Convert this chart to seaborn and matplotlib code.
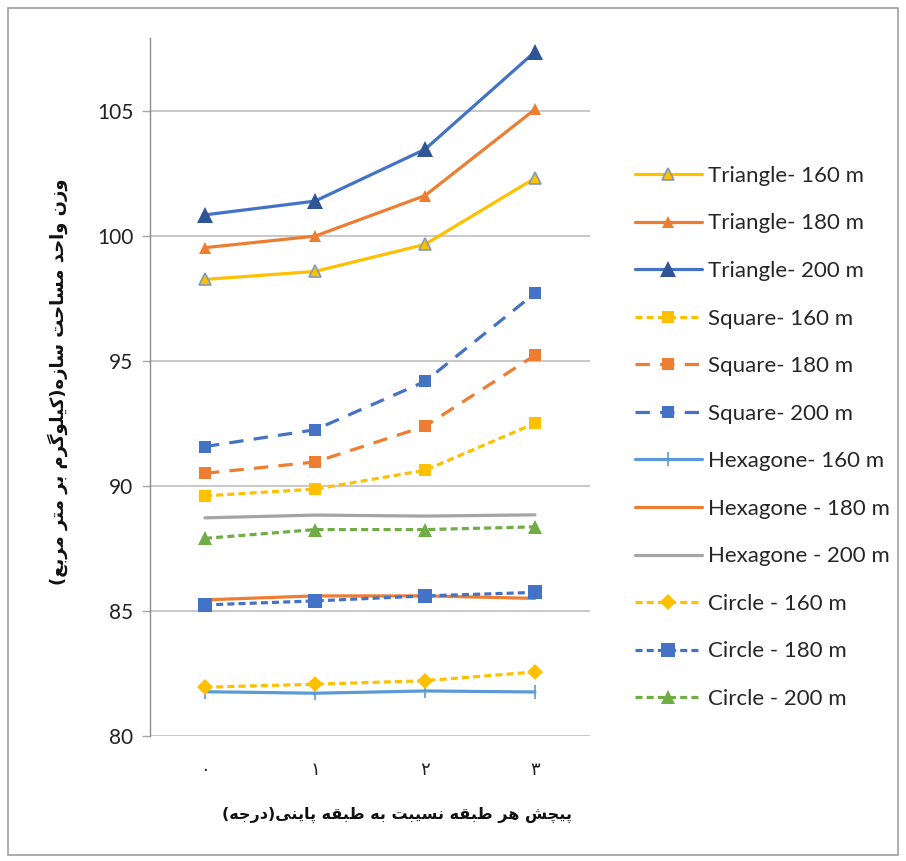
import matplotlib
matplotlib.use("Agg")
import matplotlib.pyplot as plt
import seaborn as sns
import pandas as pd
from matplotlib.patches import Rectangle

# ---------------- data ----------------
x_vals = [0, 1, 2, 3]
x_ticklabels = ["۰", "۱", "۲", "۳"]

tri_160 = [98.25, 98.57, 99.65, 102.3]
tri_180 = [99.52, 99.98, 101.6, 105.05]
tri_200 = [100.83, 101.38, 103.45, 107.35]
sq_160 = [89.6, 89.87, 90.62, 92.5]
sq_180 = [90.5, 90.95, 92.38, 95.22]
sq_200 = [91.57, 92.24, 94.17, 97.7]
hex_160 = [81.77, 81.71, 81.8, 81.76]
hex_180 = [85.44, 85.6, 85.6, 85.5]
hex_200 = [88.72, 88.83, 88.79, 88.84]
cir_160 = [81.95, 82.07, 82.21, 82.56]
cir_180 = [85.24, 85.4, 85.6, 85.74]
cir_200 = [87.9, 88.25, 88.25, 88.36]

labels = ["Triangle- 160 m", "Triangle- 180 m", "Triangle- 200 m",
          "Square- 160 m", "Square- 180 m", "Square- 200 m",
          "Hexagone- 160 m", "Hexagone - 180 m", "Hexagone - 200 m",
          "Circle - 160 m", "Circle - 180 m", "Circle - 200 m"]
series = [tri_160, tri_180, tri_200, sq_160, sq_180, sq_200,
          hex_160, hex_180, hex_200, cir_160, cir_180, cir_200]

x_label = "پیچش هر طبقه نسیبت به طبقه پاینی(درجه)"
y_label = "وزن واحد مساحت سازه(کیلوگرم بر متر مربع)"

# ------------- simple Persian shaping -------------
FORMS = {  # isolated, final, initial, medial
    "ا": ("\uFE8D", "\uFE8E", None, None),
    "ب": ("\uFE8F", "\uFE90", "\uFE91", "\uFE92"),
    "ت": ("\uFE95", "\uFE96", "\uFE97", "\uFE98"),
    "ج": ("\uFE9D", "\uFE9E", "\uFE9F", "\uFEA0"),
    "ح": ("\uFEA1", "\uFEA2", "\uFEA3", "\uFEA4"),
    "د": ("\uFEA9", "\uFEAA", None, None),
    "ر": ("\uFEAD", "\uFEAE", None, None),
    "ز": ("\uFEAF", "\uFEB0", None, None),
    "س": ("\uFEB1", "\uFEB2", "\uFEB3", "\uFEB4"),
    "ش": ("\uFEB5", "\uFEB6", "\uFEB7", "\uFEB8"),
    "ط": ("\uFEC1", "\uFEC2", "\uFEC3", "\uFEC4"),
    "ع": ("\uFEC9", "\uFECA", "\uFECB", "\uFECC"),
    "ق": ("\uFED5", "\uFED6", "\uFED7", "\uFED8"),
    "ل": ("\uFEDD", "\uFEDE", "\uFEDF", "\uFEE0"),
    "م": ("\uFEE1", "\uFEE2", "\uFEE3", "\uFEE4"),
    "ن": ("\uFEE5", "\uFEE6", "\uFEE7", "\uFEE8"),
    "ه": ("\uFEE9", "\uFEEA", "\uFEEB", "\uFEEC"),
    "و": ("\uFEED", "\uFEEE", None, None),
    "پ": ("\uFB56", "\uFB57", "\uFB58", "\uFB59"),
    "چ": ("\uFB7A", "\uFB7B", "\uFB7C", "\uFB7D"),
    "ک": ("\uFB8E", "\uFB8F", "\uFB90", "\uFB91"),
    "گ": ("\uFB92", "\uFB93", "\uFB94", "\uFB95"),
    "ی": ("\uFBFC", "\uFBFD", "\uFBFE", "\uFBFF"),
}


def dual(c):
    return c in FORMS and FORMS[c][2] is not None


def joining(c):
    return c in FORMS


def shape_rtl(text):
    out = []
    n = len(text)
    for i, c in enumerate(text):
        if c not in FORMS:
            out.append(c)
            continue
        prev_c = text[i - 1] if i > 0 else ""
        next_c = text[i + 1] if i < n - 1 else ""
        jp = dual(prev_c)
        jn = dual(c) and joining(next_c)
        iso, fin, ini, med = FORMS[c]
        if jp and jn:
            out.append(med)
        elif jp:
            out.append(fin)
        elif jn:
            out.append(ini)
        else:
            out.append(iso)
    vis = "".join(reversed(out))
    vis = vis.translate(str.maketrans({"(": ")", ")": "("}))
    return vis


# ---------------- styles ----------------
YEL = "#FFC000"
ORA = "#ED7D31"
BLU = "#4472C4"
LBL = "#5B9BD5"
GRY = "#A5A5A5"
GRN = "#70AD47"
short = (0, (2.2, 1.3))
long_ = (0, (4.5, 3.2))

styles = [
    dict(color=YEL, ls="-", marker="^", ms=9, mfc=YEL, mec="#7F9CB8", mew=1.2),
    dict(color=ORA, ls="-", marker="^", ms=8, mfc=ORA, mec=ORA, mew=0),
    dict(color=BLU, ls="-", marker="^", ms=12, mfc="#2F5597", mec="#2F5597", mew=0),
    dict(color=YEL, ls=short, marker="s", ms=9, mfc=YEL, mec=YEL, mew=0),
    dict(color=ORA, ls=long_, marker="s", ms=9, mfc=ORA, mec=ORA, mew=0),
    dict(color=BLU, ls=long_, marker="s", ms=9, mfc=BLU, mec=BLU, mew=0),
    dict(color=LBL, ls="-", marker="|", ms=10, mfc=LBL, mec=LBL, mew=1.2),
    dict(color=ORA, ls="-", marker=None),
    dict(color=GRY, ls="-", marker=None),
    dict(color=YEL, ls=short, marker="D", ms=8, mfc=YEL, mec=YEL, mew=0),
    dict(color=BLU, ls=short, marker="s", ms=10, mfc=BLU, mec=BLU, mew=0),
    dict(color=GRN, ls=short, marker="^", ms=10, mfc=GRN, mec=GRN, mew=0),
]

sns.set_theme(style="white")
plt.rcParams["font.family"] = ["Lato", "DejaVu Sans"]

fig = plt.figure(figsize=(9.06, 8.61), dpi=100)
ax = fig.add_axes([150 / 906, 1 - 736 / 861, 440 / 906, 698 / 861])

for lab, vals, st in zip(labels, series, styles):
    df = pd.DataFrame({"x": x_vals, "y": vals})
    kw = dict(color=st["color"], linestyle=st["ls"], linewidth=2.3,
              label=lab, dash_capstyle="butt")
    if st["marker"]:
        kw.update(marker=st["marker"], markersize=st["ms"],
                  markerfacecolor=st["mfc"], markeredgecolor=st["mec"],
                  markeredgewidth=st["mew"])
    sns.lineplot(data=df, x="x", y="y", ax=ax, **kw)

ax.set_xlim(-0.5, 3.5)
ax.set_ylim(80, 107.9)
ax.set_yticks([80, 85, 90, 95, 100, 105])
ax.set_xticks(x_vals)
ax.set_xticklabels(x_ticklabels, family="DejaVu Sans", fontsize=13)
ax.tick_params(axis="y", labelsize=15, length=6, width=1, color="#A6A6A6",
               pad=6, left=True, labelcolor="#222222")
ax.tick_params(axis="x", length=0, pad=18, labelcolor="#222222")
ax.grid(axis="y", color="#BFBFBF", linewidth=1.2)
ax.set_axisbelow(True)
for s in ["top", "right", "bottom"]:
    ax.spines[s].set_visible(False)
ax.spines["left"].set_color("#8C8C8C")
ax.spines["left"].set_linewidth(1)

ax.set_xlabel(shape_rtl(x_label), family="DejaVu Sans", fontsize=11.5,
              fontweight="bold", color="#111111")
ax.xaxis.set_label_coords((397 - 150) / 440, -(815 - 736) / 698)
ax.xaxis.label.set_va("center")
ax.set_ylabel(shape_rtl(y_label), family="DejaVu Sans", fontsize=13,
              fontweight="bold", color="#111111")
ax.yaxis.set_label_coords(-(150 - 58) / 440, (736 - 382) / 698)
ax.yaxis.label.set_va("center")

if ax.get_legend() is not None:
    ax.get_legend().remove()
handles, labs = ax.get_legend_handles_labels()
fig.legend(handles, labs, loc="upper left",
           bbox_to_anchor=(626 / 906, 1 - 157 / 861), frameon=False,
           fontsize=16, labelspacing=1.24, handlelength=3.0,
           handletextpad=0.3, borderaxespad=0)

fig.patches.append(Rectangle((8 / 906, 6 / 861), 890 / 906, 847 / 861,
                             transform=fig.transFigure, fill=False,
                             edgecolor="#A0A0A0", linewidth=1.2))

fig.savefig("out.png", dpi=100)
